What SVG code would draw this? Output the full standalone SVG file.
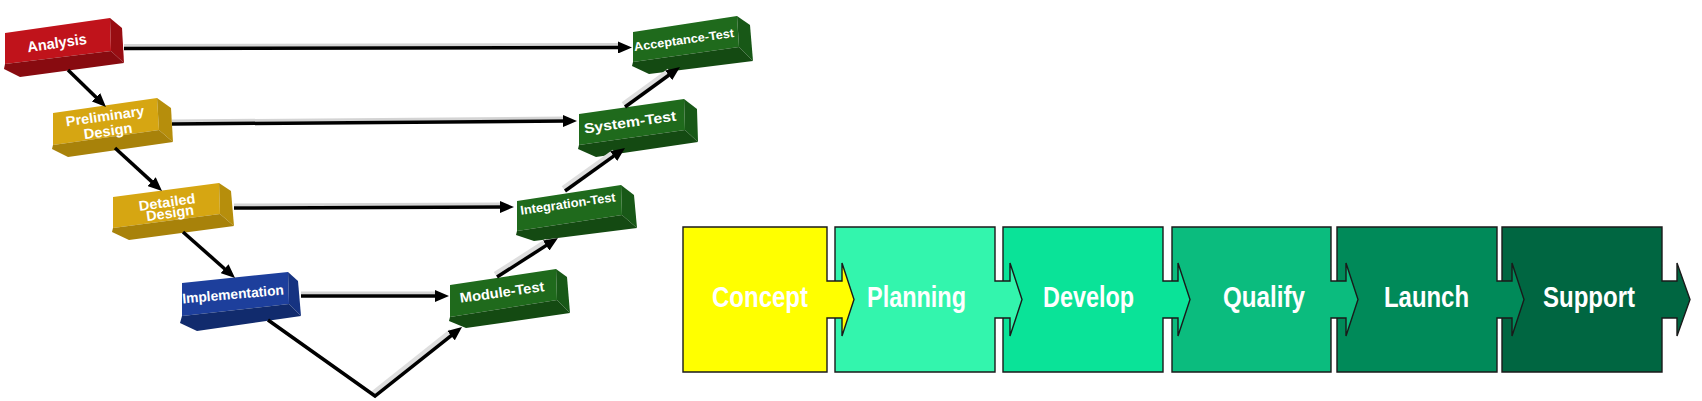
<svg xmlns="http://www.w3.org/2000/svg" width="1702" height="401" viewBox="0 0 1702 401">
<defs>
<style>
.lbl{font-family:"Liberation Sans",Arial,sans-serif;font-weight:bold;fill:#fff;text-anchor:middle}
.ph{font-family:"Liberation Sans",Arial,sans-serif;font-weight:bold;fill:#fff;font-size:29px}
.pshape{stroke:#1a1a1a;stroke-width:1.4;stroke-linejoin:miter}
.line{fill:none;stroke:#000;stroke-width:3.5;stroke-linejoin:miter}
.hl{fill:none;stroke:#d4d4d4;stroke-width:3}
.hld{fill:none;stroke:#dedede;stroke-width:4.5}
.rF{fill:#c0131b}.rS{fill:#980d12}.rB{fill:#880b10}
.yF{fill:#d6a612}.yS{fill:#b68e0c}.yB{fill:#a8820a}
.bF{fill:#1d3f9c}.bS{fill:#163381}.bB{fill:#112b6d}
.gF{fill:#1f6a1c}.gS{fill:#185817}.gB{fill:#144a12}
</style>
<marker id="ah" markerUnits="userSpaceOnUse" markerWidth="15" markerHeight="12" refX="3" refY="6" orient="auto">
<path d="M0,0 L14,6 L0,12 z" fill="#000"/>
</marker>
</defs>
<rect width="1702" height="401" fill="#fff"/>

<g id="analysis">
<polygon class="rF" points="5,33 110,18 111,51 5,64"/>
<polygon class="rS" points="110,18 122,28 124,63 111,51"/>
<polygon class="rB" points="5,64 111,51 124,63 20,77 4,69"/>
<text class="lbl" font-size="15" x="57" y="48" textLength="60" lengthAdjust="spacingAndGlyphs" transform="rotate(-8 57 43)">Analysis</text>
</g>
<g id="preliminary-design">
<polygon class="yF" points="53,113 157,98 159,130 53,145"/>
<polygon class="yS" points="157,98 171,108 173,142 159,130"/>
<polygon class="yB" points="53,145 159,130 173,142 68,157 52,149"/>
<text class="lbl" font-size="14" x="105" y="121" textLength="79" lengthAdjust="spacingAndGlyphs" transform="rotate(-8 105 116)">Preliminary</text>
<text class="lbl" font-size="14.5" x="108" y="136" textLength="49" lengthAdjust="spacingAndGlyphs" transform="rotate(-8 108 131)">Design</text>
</g>
<g id="detailed-design">
<polygon class="yF" points="113,197 219,183 220,214 113,228"/>
<polygon class="yS" points="219,183 231,191 234,226 220,214"/>
<polygon class="yB" points="113,228 220,214 234,226 129,240 112,232"/>
<text class="lbl" font-size="14" x="167" y="207" textLength="57" lengthAdjust="spacingAndGlyphs" transform="rotate(-8 167 202)">Detailed</text>
<text class="lbl" font-size="14.5" x="170" y="218" textLength="48" lengthAdjust="spacingAndGlyphs" transform="rotate(-8 170 213)">Design</text>
</g>
<g id="implementation">
<polygon class="bF" points="182,283 288,272 289,304 182,316"/>
<polygon class="bS" points="288,272 298,281 301,316 289,304"/>
<polygon class="bB" points="182,316 289,304 301,316 197,331 180,323"/>
<text class="lbl" font-size="14" x="233" y="299" textLength="102" lengthAdjust="spacingAndGlyphs" transform="rotate(-5 233 294)">Implementation</text>
</g>
<g id="acceptance-test">
<polygon class="gF" points="633,32 737,16 739,47 633,62"/>
<polygon class="gS" points="737,16 750,25 753,61 739,47"/>
<polygon class="gB" points="633,62 739,47 753,61 649,74 632,66"/>
<text class="lbl" font-size="12" x="684" y="44" textLength="101" lengthAdjust="spacingAndGlyphs" transform="rotate(-8 684 40)">Acceptance-Test</text>
</g>
<g id="system-test">
<polygon class="gF" points="579,114 684,99 685,130 579,145"/>
<polygon class="gS" points="684,99 697,109 698,142 685,130"/>
<polygon class="gB" points="579,145 685,130 698,142 596,157 578,149"/>
<text class="lbl" font-size="14" x="630" y="127" textLength="93" lengthAdjust="spacingAndGlyphs" transform="rotate(-8 630 122)">System-Test</text>
</g>
<g id="integration-test">
<polygon class="gF" points="517,201 621,185 622,215 517,231"/>
<polygon class="gS" points="621,185 634,195 637,228 622,215"/>
<polygon class="gB" points="517,231 622,215 637,228 534,241 516,235"/>
<text class="lbl" font-size="12.5" x="568" y="208" textLength="96" lengthAdjust="spacingAndGlyphs" transform="rotate(-8 568 204)">Integration-Test</text>
</g>
<g id="module-test">
<polygon class="gF" points="450,285 556,269 557,300 450,317"/>
<polygon class="gS" points="556,269 567,277 570,313 557,300"/>
<polygon class="gB" points="450,317 557,300 570,313 466,328 449,321"/>
<text class="lbl" font-size="14" x="502" y="297" textLength="85" lengthAdjust="spacingAndGlyphs" transform="rotate(-8 502 292)">Module-Test</text>
</g>

<g id="connectors">
<line class="hl" x1="124" y1="45.5" x2="621" y2="44.5"/>
<line class="line" x1="124" y1="48.5" x2="621" y2="47.5" marker-end="url(#ah)"/>
<line class="hl" x1="172" y1="121" x2="566" y2="118"/>
<line class="line" x1="172" y1="124" x2="566" y2="121" marker-end="url(#ah)"/>
<line class="hl" x1="234" y1="205" x2="503" y2="204"/>
<line class="line" x1="234" y1="208" x2="503" y2="207" marker-end="url(#ah)"/>
<line class="hl" x1="301" y1="293" x2="438" y2="293"/>
<line class="line" x1="301" y1="296" x2="438" y2="296" marker-end="url(#ah)"/>
<line class="line" x1="68" y1="70" x2="98.1" y2="99.3" marker-end="url(#ah)"/>
<line class="line" x1="115" y1="148" x2="153.9" y2="183.6" marker-end="url(#ah)"/>
<line class="line" x1="183" y1="232" x2="226.8" y2="270.7" marker-end="url(#ah)"/>
<line class="hld" x1="373" y1="393" x2="451" y2="331"/>
<polyline class="line" points="268,320 375,396 453.4,333.8" marker-end="url(#ah)"/>
<line class="hld" x1="495" y1="274" x2="546.5" y2="241"/>
<line class="line" x1="497" y1="277" x2="548.7" y2="243.9" marker-end="url(#ah)"/>
<line class="hld" x1="563" y1="188" x2="614" y2="151.5"/>
<line class="line" x1="565" y1="191" x2="616.1" y2="154.4" marker-end="url(#ah)"/>
<line class="hld" x1="623" y1="104" x2="669" y2="70.5"/>
<line class="line" x1="625" y1="107" x2="671.1" y2="73.5" marker-end="url(#ah)"/>
</g>

<g id="support">
<path class="pshape" fill="#006641" d="M1502,227 H1662 V281 H1677 V263 L1690,299.5 L1677,336 V318 H1662 V372 H1502 Z"/>
<text class="ph" x="1543" y="307" textLength="92" lengthAdjust="spacingAndGlyphs">Support</text>
</g>
<g id="launch">
<path class="pshape" fill="#008a59" d="M1337,227 H1497 V281 H1512 V263 L1524,299.5 L1512,336 V318 H1497 V372 H1337 Z"/>
<text class="ph" x="1384" y="307" textLength="85" lengthAdjust="spacingAndGlyphs">Launch</text>
</g>
<g id="qualify">
<path class="pshape" fill="#0bbc7e" d="M1172,227 H1331 V281 H1346 V263 L1358,299.5 L1346,336 V318 H1331 V372 H1172 Z"/>
<text class="ph" x="1223" y="307" textLength="82" lengthAdjust="spacingAndGlyphs">Qualify</text>
</g>
<g id="develop">
<path class="pshape" fill="#0ae398" d="M1003,227 H1163 V281 H1178 V263 L1190,299.5 L1178,336 V318 H1163 V372 H1003 Z"/>
<text class="ph" x="1043" y="307" textLength="91" lengthAdjust="spacingAndGlyphs">Develop</text>
</g>
<g id="planning">
<path class="pshape" fill="#33f5ad" d="M835,227 H995 V281 H1010 V263 L1022,299.5 L1010,336 V318 H995 V372 H835 Z"/>
<text class="ph" x="867" y="307" textLength="99" lengthAdjust="spacingAndGlyphs">Planning</text>
</g>
<g id="concept">
<path class="pshape" fill="#ffff00" d="M683,227 H827 V281 H842 V263 L854,299.5 L842,336 V318 H827 V372 H683 Z"/>
<text class="ph" x="712" y="307" textLength="96" lengthAdjust="spacingAndGlyphs">Concept</text>
</g>
</svg>
